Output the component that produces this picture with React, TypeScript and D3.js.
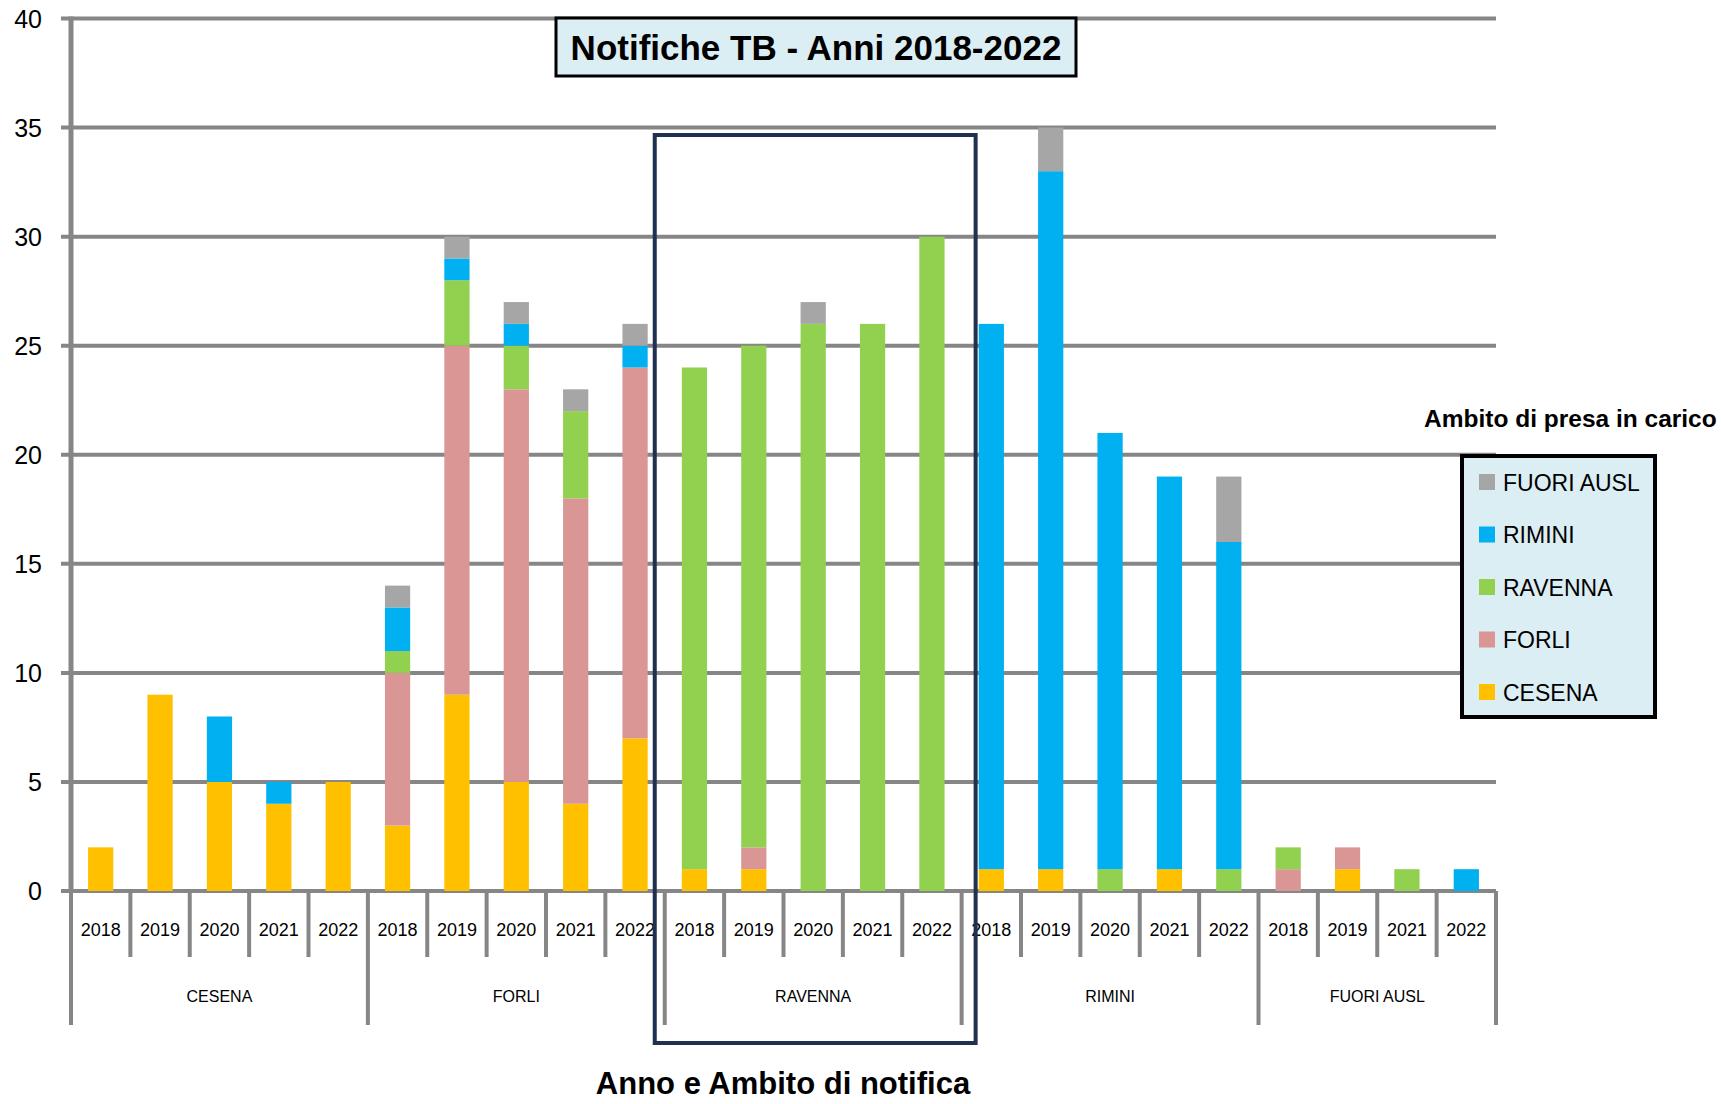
import React from "react";
import * as d3 from "d3";

const groupNames = ["CESENA", "FORLI", "RAVENNA", "RIMINI", "FUORI AUSL"];
const groupYears = [
  ["2018", "2019", "2020", "2021", "2022"],
  ["2018", "2019", "2020", "2021", "2022"],
  ["2018", "2019", "2020", "2021", "2022"],
  ["2018", "2019", "2020", "2021", "2022"],
  ["2018", "2019", "2021", "2022"],
];

// series (bottom to top), one value per category (group x year)
const seriesKeys = ["CESENA", "FORLI", "RAVENNA", "RIMINI", "FUORI AUSL"];
const cesena = [2, 9, 5, 4, 5, 3, 9, 5, 4, 7, 1, 1, 0, 0, 0, 1, 1, 0, 1, 0, 0, 1, 0, 0];
const forli = [0, 0, 0, 0, 0, 7, 16, 18, 14, 17, 0, 1, 0, 0, 0, 0, 0, 0, 0, 0, 1, 1, 0, 0];
const ravenna = [0, 0, 0, 0, 0, 1, 3, 2, 4, 0, 23, 23, 26, 26, 30, 0, 0, 1, 0, 1, 1, 0, 1, 0];
const rimini = [0, 0, 3, 1, 0, 2, 1, 1, 0, 1, 0, 0, 0, 0, 0, 25, 32, 20, 18, 15, 0, 0, 0, 1];
const fuori = [0, 0, 0, 0, 0, 1, 1, 1, 1, 1, 0, 0, 1, 0, 0, 0, 2, 0, 0, 3, 0, 0, 0, 0];
const seriesColors = ["#FFC000", "#D99694", "#92D050", "#00B0F0", "#A6A6A6"];
const yTicks = [0, 5, 10, 15, 20, 25, 30, 35, 40];

const title = "Notifiche TB - Anni 2018-2022";
const xTitle = "Anno e Ambito di notifica";
const legendTitle = "Ambito di presa in carico";
const highlightGroup = "RAVENNA";

export default function App() {
  const W = 1721, H = 1104;
  const x0 = 71, x1 = 1496, yTop = 18.5, yBase = 891;

  const cats: { g: number; year: string; i: number }[] = [];
  groupYears.forEach((ys, g) => ys.forEach((year) => cats.push({ g, year, i: cats.length })));

  const rows = cats.map((c, i) => ({
    i,
    CESENA: cesena[i],
    FORLI: forli[i],
    RAVENNA: ravenna[i],
    RIMINI: rimini[i],
    "FUORI AUSL": fuori[i],
  }));
  const stacked = d3.stack<any>().keys(seriesKeys)(rows);

  const x = d3
    .scaleBand<number>()
    .domain(cats.map((c) => c.i))
    .range([x0, x1])
    .paddingInner(0.575)
    .paddingOuter(0.2875);
  const step = x.step();
  const y = d3.scaleLinear().domain([0, 40]).range([yBase, yTop]);
  const color = d3.scaleOrdinal<string, string>().domain(seriesKeys).range(seriesColors);

  const catLeft = (i: number) => x0 + i * step;
  const groupStarts: number[] = [];
  let acc = 0;
  groupYears.forEach((ys) => {
    groupStarts.push(acc);
    acc += ys.length;
  });

  const grid = "#868686";
  const hi = groupNames.indexOf(highlightGroup);
  const hiStart = groupStarts[hi];
  const hiEnd = hiStart + groupYears[hi].length;
  const hiL = catLeft(hiStart) - 10;
  const hiR = catLeft(hiEnd) + 14;

  const font = "'Liberation Sans', Arial, sans-serif";

  return (
    <div style={{ position: "absolute", left: 0, top: 0 }}>
      <svg width={W} height={H} style={{ display: "block", background: "#fff", fontFamily: font }}>
        {/* gridlines */}
        {yTicks.map((t) => (
          <line key={"g" + t} x1={61} x2={x1} y1={y(t)} y2={y(t)} stroke={grid} strokeWidth={4} />
        ))}
        {/* y axis */}
        <line x1={x0} x2={x0} y1={yTop - 2} y2={yBase} stroke={grid} strokeWidth={5} />
        {yTicks.map((t) => (
          <text key={"t" + t} x={42} y={y(t) + 9} textAnchor="end" fontSize={25} fill="#000">
            {t}
          </text>
        ))}

        {/* bars */}
        {stacked.map((s) => (
          <g key={s.key} fill={color(s.key)}>
            {s.map((d, i) =>
              d[1] - d[0] > 0 ? (
                <rect
                  key={i}
                  x={x(i)}
                  width={x.bandwidth()}
                  y={y(d[1])}
                  height={y(d[0]) - y(d[1])}
                />
              ) : null
            )}
          </g>
        ))}

        {/* category axis separators */}
        {cats.map((c, i) => {
          if (i === 0) return null;
          const isGroup = groupStarts.includes(i);
          return (
            <line
              key={"s" + i}
              x1={catLeft(i)}
              x2={catLeft(i)}
              y1={yBase}
              y2={isGroup ? 1025 : 957}
              stroke={grid}
              strokeWidth={4}
            />
          );
        })}
        <line x1={x0} x2={x0} y1={yBase} y2={1025} stroke={grid} strokeWidth={4} />
        <line x1={x1} x2={x1} y1={yBase} y2={1025} stroke={grid} strokeWidth={4} />

        {/* year labels */}
        {cats.map((c) => (
          <text
            key={"y" + c.i}
            x={x(c.i)! + x.bandwidth() / 2}
            y={936}
            textAnchor="middle"
            fontSize={18}
            fill="#000"
          >
            {c.year}
          </text>
        ))}
        {/* group labels */}
        {groupNames.map((g, gi) => {
          const a = catLeft(groupStarts[gi]);
          const b = catLeft(groupStarts[gi] + groupYears[gi].length);
          return (
            <text key={g} x={(a + b) / 2} y={1002} textAnchor="middle" fontSize={16} fill="#000">
              {g}
            </text>
          );
        })}

        {/* highlight rectangle */}
        <rect
          x={hiL}
          y={135}
          width={hiR - hiL}
          height={908}
          fill="none"
          stroke="#1F3050"
          strokeWidth={4}
        />

        {/* x title */}
        <text x={783} y={1094} textAnchor="middle" fontSize={31} fontWeight="bold" fill="#000">
          {xTitle}
        </text>

        {/* title box */}
        <rect x={556} y={18} width={520} height={58} fill="#DBEEF4" stroke="#000" strokeWidth={3} />
        <text x={816} y={60} textAnchor="middle" fontSize={35} fontWeight="bold" fill="#000">
          {title}
        </text>

        {/* legend */}
        <text x={1424} y={427} fontSize={24.5} fontWeight="bold" fill="#000">
          {legendTitle}
        </text>
        <rect x={1462} y={456} width={193} height={261} fill="#DBEEF4" stroke="#000" strokeWidth={4} />
        {[...seriesKeys].reverse().map((k, li) => {
          const cy = 482 + li * 52.5;
          return (
            <g key={"l" + k}>
              <rect x={1479} y={cy - 8} width={16} height={16} fill={color(k)} />
              <text x={1503} y={cy + 8.5} fontSize={23} fill="#000">
                {k}
              </text>
            </g>
          );
        })}
      </svg>
    </div>
  );
}
